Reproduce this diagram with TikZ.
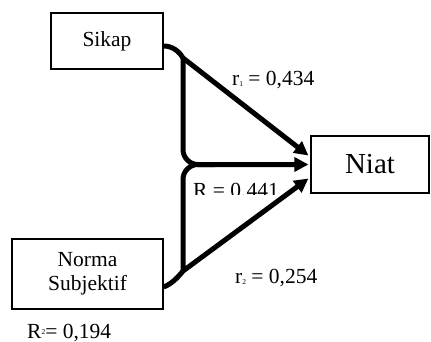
\documentclass[tikz,border=0pt]{standalone}
\usepackage{fontspec}
\setmainfont{Liberation Serif}
\usetikzlibrary{arrows.meta,calc}
\newcommand{\tinyidx}[2]{\raisebox{#1}{\fontsize{7.5}{7.5}\selectfont #2}}
\begin{document}
\begin{tikzpicture}[x=1pt,y=-1pt,
  box/.style={draw,line width=1.2pt,inner sep=0pt,font=\fontsize{21.5}{24}\selectfont},
  conn/.style={line width=5pt},
  arr/.style={conn,-{Triangle[length=14pt,width=14pt]}},
  lbl/.style={inner sep=0pt,font=\fontsize{21.5}{24}\selectfont}]
\useasboundingbox (0,0) rectangle (431,342);
\node[box,minimum width=112pt,minimum height=56pt] (sikap) at (107,41) {Sikap};
\node[box,minimum width=151pt,minimum height=70pt,align=center] (norma) at (87.5,274) {Norma\\Subjektif};
\node[box,minimum width=118pt,minimum height=57pt,font=\fontsize{29}{32}\selectfont] (niat) at (370,164.5) {Niat};
\coordinate (s0) at ([yshift=-5pt]sikap.east);
\coordinate (n0) at ([yshift=-13pt]norma.east);
\coordinate (t1) at ([xshift=-2pt,yshift=9pt]niat.west);
\coordinate (t2) at ([xshift=-2pt]niat.west);
\coordinate (t3) at ([xshift=-2pt,yshift=-14pt]niat.west);
\coordinate (j1) at (183,58);
\coordinate (j2) at (183,271);
\coordinate (c) at (183,164.5);
\coordinate (h) at (215,164.5);
\draw[conn] (s0) .. controls (172,46) and (179,51) .. (j1);
\draw[conn] (n0) .. controls (172,284) and (179,276) .. (j2);
\draw[conn,rounded corners=15pt] (j2) -- (c) -- (h);
\draw[arr,rounded corners=15pt] (j1) -- (c) -- (t2);
\draw[arr] (j1) -- (t1);
\draw[arr] (j2) -- (t3);
\node[lbl,anchor=base west] (r1) at (232,86) {r\tinyidx{-1pt}{1} = 0,434};
\node[lbl,anchor=base west] (r2) at (235,283) {r\tinyidx{-1pt}{2} = 0,254};
\node[lbl,anchor=base west] (r2b) at (27,338) {R\tinyidx{4pt}{2}= 0,194};
\begin{scope}
\clip (185,170) rectangle (300,194.5);
\node[lbl,anchor=base west] (rr) at (193,197) {R = 0,441};
\end{scope}
\end{tikzpicture}
\end{document}
